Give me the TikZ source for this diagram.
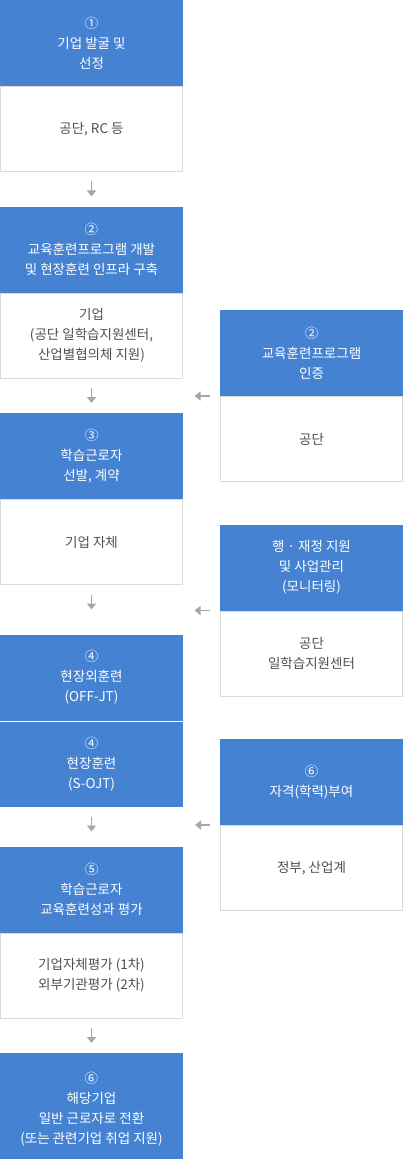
\documentclass[tikz,border=0pt]{standalone}
\usepackage{fontspec}
\setmainfont{Noto Sans CJK KR}
\usetikzlibrary{positioning,arrows.meta}
\definecolor{boxblue}{RGB}{69,130,210}
\definecolor{boxline}{RGB}{218,218,218}
\definecolor{arrgray}{RGB}{163,168,176}
\definecolor{txtgray}{RGB}{80,80,80}
\begin{document}
\begin{tikzpicture}[x=1pt, y=1pt,
  bluebox/.style={fill=boxblue, text=white, minimum width=183pt, minimum height=86pt, align=center, inner sep=0pt, outer sep=0pt, font=\fontsize{13.5}{20}\selectfont},
  whitebox/.style={draw=boxline, line width=1pt, fill=white, text=txtgray, minimum width=182pt, minimum height=85pt, align=center, inner sep=0pt, outer sep=0pt, font=\fontsize{13.5}{20}\selectfont},
  arr/.style={draw=arrgray, line width=1.3pt, -{Triangle[width=9pt,length=6pt]}}]
\useasboundingbox (0,0) rectangle (403,-1161);
\node (b1)[bluebox] at (91.5,-43) {①\\기업 발굴 및\\선정};
\node (w1)[whitebox] [below=0.5pt of b1] {공단, RC 등};
\node (b2)[bluebox] [below=35pt of w1] {②\\교육훈련프로그램 개발\\및 현장훈련 인프라 구축};
\node (w2)[whitebox] [below=0.5pt of b2] {기업\\(공단 일학습지원센터,\\산업별협의체 지원)};
\node (b3)[bluebox] [below=35pt of w2] {③\\학습근로자\\선발, 계약};
\node (w3)[whitebox] [below=0.5pt of b3] {기업 자체};
\node (b4)[bluebox] [below=50pt of w3] {④\\현장외훈련\\(OFF-JT)};
\node (b5)[bluebox, minimum height=85pt] [below=1pt of b4] {④\\현장훈련\\(S-OJT)};
\node (b6)[bluebox] [below=40pt of b5] {⑤\\학습근로자\\교육훈련성과 평가};
\node (w6)[whitebox] [below=0.5pt of b6] {기업자체평가 (1차)\\외부기관평가 (2차)};
\node (b7)[bluebox, minimum height=106pt] [below=35pt of w6] {};
\node (t7)[text=white, align=center, font=\fontsize{13.5}{20}\selectfont] [below=16pt of b7.north] {⑥\\해당기업\\일반 근로자로 전환\\(또는 관련기업 취업 지원)};
\node (r1)[bluebox] at (311.5,-353) {②\\교육훈련프로그램\\인증};
\node (v1)[whitebox] [below=0.5pt of r1] {공단};
\node (r2)[bluebox] [below=43pt of v1] {행 · 재정 지원\\및 사업관리\\(모니터링)};
\node (v2)[whitebox] [below=0.5pt of r2] {공단\\일학습지원센터};
\node (r3)[bluebox] [below=43pt of v2] {⑥\\자격(학력)부여};
\node (v3)[whitebox] [below=0.5pt of r3] {정부, 산업계};
\draw[arr, shorten <=10pt, shorten >=10pt] (w1) -- (b2);
\draw[arr, shorten <=10pt, shorten >=10pt] (w2) -- (b3);
\draw[arr, shorten <=10pt, shorten >=25pt] (w3) -- (b4);
\draw[arr, shorten <=10pt, shorten >=15pt] (b5) -- (b6);
\draw[arr, shorten <=10pt, shorten >=10pt] (w6) -- (b7);
\draw[arr, shorten <=10pt, shorten >=12pt] (r1.south west) -- (r1.south west -| w2.east);
\draw[arr, shorten <=10pt, shorten >=12pt] (r2.south west) -- (r2.south west -| w3.east);
\draw[arr, shorten <=10pt, shorten >=12pt] (r3.south west) -- (r3.south west -| b6.east);
\end{tikzpicture}
\end{document}
